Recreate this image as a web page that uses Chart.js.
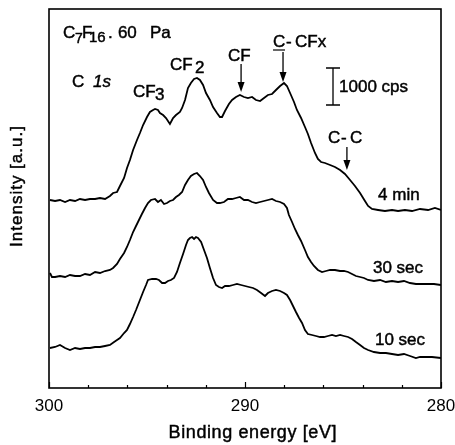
<!DOCTYPE html>
<html>
<head>
<meta charset="utf-8">
<script src="https://cdn.jsdelivr.net/npm/chart.js@4.4.1/dist/chart.umd.min.js"></script>
<style>
  html, body { margin: 0; padding: 0; background: #fff; }
  #wrap { width: 455px; height: 445px; }
</style>
</head>
<body>
<div id="wrap"><canvas id="xps" width="455" height="445"></canvas></div>
<script>
// C 1s spectra, C7F16 plasma at 60 Pa
const energy4min = [299.95,299.69,299.44,299.18,298.93,298.67,298.42,298.16,297.91,297.65,
  297.40,297.14,296.89,296.73,296.53,296.38,296.17,296.02,295.87,295.71,
  295.51,295.36,295.20,295.00,294.85,294.69,294.59,294.44,294.34,294.18,
  294.03,293.83,293.67,293.52,293.32,293.21,293.06,292.91,292.76,292.60,
  292.45,292.30,292.14,291.99,291.79,291.63,291.43,291.28,291.17,291.02,
  290.82,290.66,290.46,290.26,290.05,289.85,289.64,289.44,289.23,289.03,
  288.83,288.62,288.42,288.21,288.01,287.86,287.70,287.50,287.35,287.14,
  286.94,286.79,286.63,286.43,286.28,286.12,285.92,285.66,285.41,285.15,
  284.90,284.64,284.39,284.13,283.88,283.72,283.52,283.21,282.86,282.50,
  282.19,281.84,281.48,281.07,280.66,280.31,280.00];
const int4min = [188,187,188,186,188,187,189,188,189,189,
  190,189,192,195,196,202,210,220,228,238,
  248,255,263,271,276,278,279,278,275,273,
  270,264,270,273,276,280,288,300,305,309,
  310,308,303,295,288,281,275,271,271,277,
  284,288,291,293,291,290,291,288,287,290,
  293,294,298,302,305,302,295,286,278,270,
  261,254,245,235,229,226,225,223,221,218,
  214,208,202,195,187,182,179,178,177,178,
  177,178,177,179,178,180,178];

const energy30s = [299.95,299.85,299.69,299.44,299.18,298.93,298.67,298.42,298.16,297.91,
  297.65,297.40,297.14,296.89,296.73,296.53,296.38,296.17,296.02,295.87,
  295.71,295.56,295.41,295.26,295.10,294.95,294.80,294.59,294.44,294.29,
  294.13,293.98,293.83,293.67,293.52,293.37,293.21,293.06,292.91,292.76,
  292.60,292.45,292.30,292.14,291.99,291.84,291.63,291.43,291.28,291.07,
  290.87,290.66,290.46,290.26,290.05,289.85,289.64,289.44,289.23,289.03,
  288.83,288.62,288.42,288.21,288.01,287.86,287.76,287.60,287.45,287.30,
  287.14,286.94,286.79,286.63,286.48,286.28,286.07,285.87,285.66,285.41,
  285.15,284.95,284.74,284.54,284.34,284.13,283.93,283.72,283.42,283.11,
  282.81,282.50,282.19,281.89,281.58,281.28,280.97,280.66,280.36,280.00];
const int30s = [115,111,111,112,111,113,112,112,114,113,
  116,115,117,118,120,124,129,135,141,148,
  156,162,168,174,180,185,188,189,186,188,
  184,185,187,188,191,193,196,203,208,212,
  214,215,212,208,201,195,188,185,185,186,
  189,189,190,191,188,188,186,185,186,187,
  188,189,187,186,184,180,173,166,159,153,
  147,138,131,126,122,118,116,117,118,118,
  117,117,116,114,112,111,110,108,107,108,
  106,107,106,107,105,104,104,104,104,103];

const energy10s = [299.95,299.69,299.44,299.18,298.93,298.67,298.42,298.16,297.91,297.65,
  297.40,297.14,296.89,296.68,296.53,296.38,296.17,296.02,295.87,295.71,
  295.56,295.36,295.20,295.05,294.95,294.74,294.54,294.39,294.23,294.08,
  293.93,293.78,293.62,293.47,293.32,293.16,293.01,292.91,292.81,292.70,
  292.60,292.50,292.40,292.24,292.09,291.94,291.79,291.63,291.48,291.33,
  291.17,291.02,290.82,290.61,290.41,290.20,290.00,289.80,289.59,289.39,
  289.18,288.98,288.83,288.62,288.42,288.21,288.01,287.86,287.70,287.55,
  287.40,287.24,287.09,286.94,286.79,286.58,286.38,286.17,285.97,285.77,
  285.56,285.36,285.15,284.95,284.74,284.54,284.34,284.13,283.93,283.72,
  283.42,283.11,282.81,282.50,282.19,281.89,281.58,281.28,281.07,280.77,
  280.46,280.00];
const int10s = [40,41,43,40,38,40,39,40,40,41,
  41,42,43,46,48,50,55,58,64,71,
  78,88,96,103,108,109,109,108,105,105,
  107,108,110,116,125,134,143,148,150,151,
  149,151,150,146,138,130,120,110,103,101,
  100,102,102,103,104,103,102,101,100,98,
  95,92,95,97,98,97,95,93,88,82,
  76,70,65,58,54,53,52,51,51,52,
  53,52,53,52,51,49,46,43,40,38,
  36,35,35,34,33,34,32,30,31,31,
  31,30];

const labelledTicks = [300, 290, 280];

const FONT = '"Liberation Sans", Arial, sans-serif';

// text placed in data units (eV, a.u.); parts = [text, dx, dy, size, italic]
const notes = [
  { e: 299.29, v: 350, parts: [['C',0,0,17],['7',12,5,14],['F',19,0,17],['16',26,4,15],['.',45,0,17],['60',55,0,17],['Pa',87,0,17]] },
  { e: 298.83, v: 301, parts: [['C',0,0,17],['1s',21,0,17,true]] },
  { e: 295.71, v: 291, parts: [['CF',0,0,17],['3',22,3,17]] },
  { e: 293.83, v: 318, parts: [['CF',0,0,17],['2',25,3,17]] },
  { e: 290.87, v: 327, parts: [['CF',0,0,17]] },
  { e: 288.57, v: 341, parts: [['C',0,0,17],['-',13,0,17],['CFx',22,0,17]], underline: 12 },
  { e: 285.20, v: 296, parts: [['1000 cps',0,0,17]] },
  { e: 285.77, v: 245, parts: [['C',0,0,17],['-',13,0,17],['C',22,0,17]] },
  { e: 283.21, v: 188, parts: [['4 min',0,0,17]] },
  { e: 283.47, v: 115, parts: [['30 sec',0,0,17]] },
  { e: 283.37, v: 43, parts: [['10 sec',0,0,17]] }
];
const arrows = [
  { e: 290.20, from: 324, to: 296 },
  { e: 288.06, from: 336, to: 306 },
  { e: 284.80, from: 241, to: 218 }
];
const scaleBar = { e: 285.51, from: 283, to: 320 };

function toPoints(xs, ys) {
  return xs.map((x, i) => ({ x: x, y: ys[i] }));
}

// scanned print looks heavy: fill and lightly stroke the text
function inkText(ctx, s, x, y) {
  ctx.fillText(s, x, y);
  ctx.lineWidth = 0.45;
  ctx.strokeText(s, x, y);
}

const overlay = {
  id: 'overlay',
  afterDraw(chart) {
    const { ctx, chartArea: a, scales: { x, y } } = chart;
    ctx.save();
    ctx.strokeStyle = '#000';
    ctx.fillStyle = '#000';
    ctx.lineWidth = 1.6;
    ctx.strokeRect(a.left, a.top, a.right - a.left, a.bottom - a.top);

    // inward tick marks on the energy axis
    ctx.lineWidth = 1.2;
    x.ticks.forEach(t => {
      const px = Math.round(x.getPixelForValue(t.value)) + 0.5;
      const len = labelledTicks.includes(t.value) ? 6 : 3;
      ctx.beginPath();
      ctx.moveTo(px, a.bottom);
      ctx.lineTo(px, a.bottom - len);
      ctx.stroke();
    });

    ctx.textAlign = 'left';
    ctx.textBaseline = 'alphabetic';
    notes.forEach(n => {
      const px = x.getPixelForValue(n.e), py = y.getPixelForValue(n.v);
      n.parts.forEach(p => {
        ctx.font = (p[4] ? 'italic ' : '') + p[3] + 'px ' + FONT;
        inkText(ctx, p[0], px + p[1], py + p[2]);
      });
      if (n.underline) {
        ctx.lineWidth = 1.2;
        ctx.beginPath();
        ctx.moveTo(px, py + 3);
        ctx.lineTo(px + n.underline, py + 3);
        ctx.stroke();
      }
    });

    arrows.forEach(ar => {
      const px = x.getPixelForValue(ar.e);
      const y1 = y.getPixelForValue(ar.from), y2 = y.getPixelForValue(ar.to);
      ctx.lineWidth = 1.3;
      ctx.beginPath();
      ctx.moveTo(px, y1);
      ctx.lineTo(px, y2 - 8);
      ctx.stroke();
      ctx.beginPath();
      ctx.moveTo(px - 3.5, y2 - 10);
      ctx.lineTo(px + 3.5, y2 - 10);
      ctx.lineTo(px, y2);
      ctx.closePath();
      ctx.fill();
    });

    const bx = x.getPixelForValue(scaleBar.e);
    const b1 = y.getPixelForValue(scaleBar.from), b2 = y.getPixelForValue(scaleBar.to);
    ctx.lineWidth = 1.3;
    ctx.beginPath();
    ctx.moveTo(bx, b1); ctx.lineTo(bx, b2);
    ctx.moveTo(bx - 7, b1); ctx.lineTo(bx + 7, b1);
    ctx.moveTo(bx - 7, b2); ctx.lineTo(bx + 7, b2);
    ctx.stroke();

    // axis titles, spaced out like the print
    ctx.textAlign = 'center';
    ctx.textBaseline = 'middle';
    ctx.letterSpacing = '0.6px';
    ctx.font = '18px ' + FONT;
    inkText(ctx, 'Binding energy [eV]', x.getPixelForValue(289.6), 433);

    ctx.save();
    ctx.translate(17, y.getPixelForValue(202));
    ctx.rotate(-Math.PI / 2);
    ctx.letterSpacing = '1px';
    ctx.font = '17px ' + FONT;
    inkText(ctx, 'Intensity [a.u.]', 0, 0);
    ctx.restore();
    ctx.restore();
  }
};

const lineStyle = {
  showLine: true,
  borderColor: '#000',
  borderWidth: 1.8,
  pointRadius: 0,
  tension: 0,
  fill: false
};

new Chart(document.getElementById('xps'), {
  type: 'scatter',
  data: {
    datasets: [
      Object.assign({ label: '4 min', data: toPoints(energy4min, int4min) }, lineStyle),
      Object.assign({ label: '30 sec', data: toPoints(energy30s, int30s) }, lineStyle),
      Object.assign({ label: '10 sec', data: toPoints(energy10s, int10s) }, lineStyle)
    ]
  },
  options: {
    responsive: false,
    animation: false,
    devicePixelRatio: 1,
    layout: { padding: { left: 49, right: 14, top: 9, bottom: 0 } },
    plugins: { legend: { display: false }, tooltip: { enabled: false } },
    scales: {
      x: {
        type: 'linear',
        reverse: true,
        min: 280,
        max: 300,
        grid: { display: false, drawTicks: false },
        border: { display: false },
        ticks: {
          stepSize: 2,
          autoSkip: false,
          maxRotation: 0,
          padding: 8,
          color: '#000',
          font: { family: FONT, size: 17 },
          callback: v => labelledTicks.includes(v) ? String(v) : ''
        },
        title: { display: false },
        afterFit: s => {
          s.height = 57;
          // edge labels fit inside the margins already
          s.paddingLeft = 0;
          s.paddingRight = 0;
        }
      },
      y: { display: false, min: 0, max: 379 }
    }
  },
  plugins: [overlay]
});
</script>
</body>
</html>
